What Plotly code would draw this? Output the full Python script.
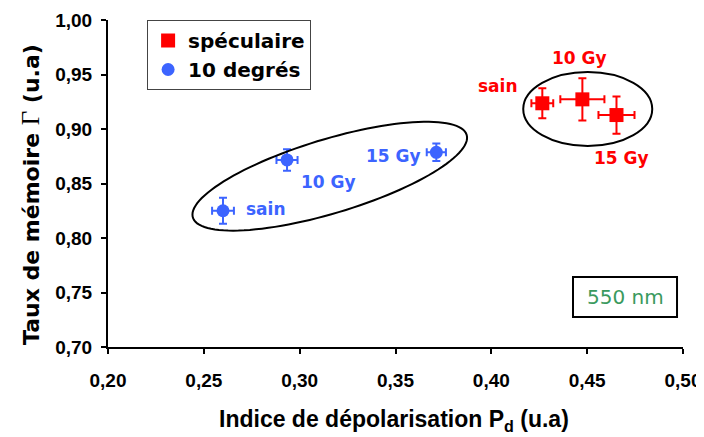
import numpy as np
import plotly.graph_objects as go

# valeurs
labels = ["sain", "10 Gy", "15 Gy"]

pd_10deg = [0.2600, 0.2934, 0.3713]
gamma_10deg = [0.8250, 0.8716, 0.8786]
err_pd_10deg = [0.0057, 0.0055, 0.0050]
err_gamma_10deg = [0.012, 0.0099, 0.0080]

pd_spec = [0.4266, 0.4475, 0.4653]
gamma_spec = [0.9236, 0.9272, 0.9128]
err_pd_spec = [0.0057, 0.0115, 0.0094]
err_gamma_spec = [0.0138, 0.0194, 0.0171]

x_ticks = [0.20, 0.25, 0.30, 0.35, 0.40, 0.45, 0.50]
y_ticks = [0.70, 0.75, 0.80, 0.85, 0.90, 0.95, 1.00]

RED = "#ff0000"
BLUE = "#3c64ff"
GREEN = "#3a9a5e"
WIDE = "DejaVu Sans"
ARIAL = "Liberation Sans"

# la page html a une marge de 8 px autour du graphique
PAGE = 8
L, T = 108 - PAGE, 20 - PAGE
PW, PH = 575, 327
R, B = 21, 90
W, H = L + PW + R, T + PH + B
px_x = PW / (x_ticks[-1] - x_ticks[0])
px_y = PH / (y_ticks[-1] - y_ticks[0])

fig = go.Figure()

fig.add_trace(go.Scatter(
    x=pd_spec, y=gamma_spec, mode="markers", name="spéculaire",
    marker=dict(symbol="square", size=14, color=RED),
    error_x=dict(type="data", array=err_pd_spec, color=RED, thickness=2, width=4),
    error_y=dict(type="data", array=err_gamma_spec, color=RED, thickness=2, width=4),
))
fig.add_trace(go.Scatter(
    x=pd_10deg, y=gamma_10deg, mode="markers", name="10 degrés",
    marker=dict(symbol="circle", size=13, color=BLUE),
    error_x=dict(type="data", array=err_pd_10deg, color=BLUE, thickness=2, width=4),
    error_y=dict(type="data", array=err_gamma_10deg, color=BLUE, thickness=2, width=4),
))

# étiquettes des points (décalages en pixels)
shifts_10deg = [(43, 2), (41, -22), (-43, -4)]
shifts_spec = [(-44, 17), (-3, 41), (5, -43)]
for xs, ys, shifts, col in [(pd_10deg, gamma_10deg, shifts_10deg, BLUE),
                            (pd_spec, gamma_spec, shifts_spec, RED)]:
    for lab, xv, yv, (dx, dy) in zip(labels, xs, ys, shifts):
        fig.add_annotation(x=xv, y=yv, text="<b>%s</b>" % lab, showarrow=False,
                           xshift=dx, yshift=dy,
                           font=dict(family=WIDE, size=17, color=col))

# ellipse inclinée autour des points à 10 degrés
cx, cy = 0.3157, 0.8567
a, b, th = 143, 37, np.radians(16.8)
t = np.linspace(0, 2 * np.pi, 120)
ex = cx + (a * np.cos(th) * np.cos(t) - b * np.sin(th) * np.sin(t)) / px_x
ey = cy + (a * np.sin(th) * np.cos(t) + b * np.cos(th) * np.sin(t)) / px_y
path = "M " + " L ".join("%.5f,%.5f" % (u, v) for u, v in zip(ex, ey)) + " Z"
fig.add_shape(type="path", path=path, line=dict(color="black", width=2))

# ellipse autour des points spéculaires
rcx, rcy = 0.4503, 0.9183
fig.add_shape(type="circle", x0=rcx - 64.5 / px_x, x1=rcx + 64.5 / px_x,
              y0=rcy - 37 / px_y, y1=rcy + 37 / px_y,
              line=dict(color="black", width=2))

# cadre "550 nm"
bx0, bx1, by0, by1 = 0.8087, 0.9896, 0.0917, 0.214
fig.add_shape(type="rect", x0=bx0, x1=bx1, y0=by0, y1=by1,
              xref="paper", yref="paper",
              line=dict(color="black", width=2), fillcolor="white", layer="below")
fig.add_annotation(x=(bx0 + bx1) / 2, y=(by0 + by1) / 2, xref="paper", yref="paper",
                   xanchor="center", yanchor="middle",
                   text="550 nm", showarrow=False,
                   font=dict(family=WIDE, size=20, color=GREEN, weight="normal"))

# titres des axes
fig.add_annotation(x=(393.5 - 108) / PW, y=-(420 - 347) / PH,
                   xref="paper", yref="paper", showarrow=False,
                   xanchor="center", yanchor="middle",
                   text="<b>Indice de dépolarisation P<sub>d</sub> (u.a)</b>",
                   font=dict(family=ARIAL, size=23, color="black"))
fig.add_annotation(x=(30 - 108) / PW, y=(347 - 195) / PH,
                   xref="paper", yref="paper", showarrow=False,
                   xanchor="center", yanchor="middle", textangle=-90,
                   text="<b>Taux de mémoire </b><span style=\"font-family:'Liberation Serif';font-weight:normal;font-size:25px\">Γ</span><b> (u.a)</b>",
                   font=dict(family=WIDE, size=22, color="black"))

axis_common = dict(showline=True, linecolor="black", linewidth=2,
                   ticks="outside", ticklen=5, tickwidth=2, tickcolor="black",
                   showgrid=False, zeroline=False, tickformat=".2f",
                   ticklabeloverflow="allow",
                   tickfont=dict(family=ARIAL, size=19, color="black", weight="bold"))

fig.update_xaxes(range=[x_ticks[0], x_ticks[-1]], tickvals=x_ticks,
                 ticklabelstandoff=10, **axis_common)
fig.update_yaxes(range=[y_ticks[0], y_ticks[-1]], tickvals=y_ticks,
                 ticklabelstandoff=5, **axis_common)

fig.update_layout(
    width=W, height=H,
    margin=dict(l=L, r=R, t=T, b=B, autoexpand=False),
    plot_bgcolor="white", paper_bgcolor="white",
    separators=", ",
    legend=dict(x=0.068, y=1.0, xanchor="left", yanchor="top",
                bordercolor="#444", borderwidth=1, bgcolor="white",
                font=dict(family=WIDE, size=20, color="black", weight="bold"),
                tracegroupgap=0),
)

fig.write_html("out.html")
